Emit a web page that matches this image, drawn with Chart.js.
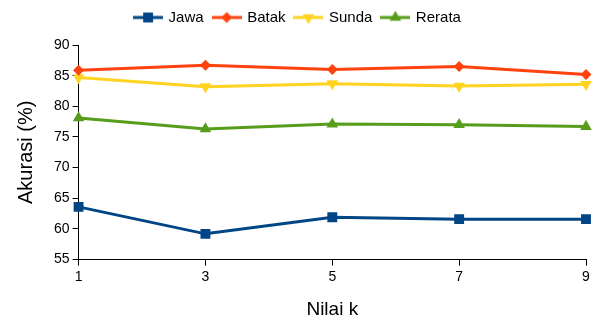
<!DOCTYPE html>
<html>
<head>
<meta charset="utf-8">
<script src="https://cdn.jsdelivr.net/npm/chart.js@4/dist/chart.umd.min.js"></script>
<style>
  html, body { margin: 0; padding: 0; background: #fff; }
  #wrap { width: 600px; height: 323px; position: relative; }
</style>
</head>
<body>
<div id="wrap"><canvas id="c"></canvas></div>
<script>
// Accuracy (%) for each k value of the k-NN classifier
const kValues = ['1', '3', '5', '7', '9'];
const jawa   = [63.6, 59.2, 61.9, 61.6, 61.6];
const batak  = [85.9, 86.7, 86.0, 86.5, 85.2];
const sunda  = [84.7, 83.2, 83.7, 83.3, 83.6];
const rerata = [78.1, 76.3, 77.1, 77.0, 76.7];
const yTicks = [55, 60, 65, 70, 75, 80, 85, 90];

const FONT = 'Liberation Sans, Arial, sans-serif';

const series = [
  { label: 'Jawa',   data: jawa,   color: '#004586', style: 'rect',     radius: 7,   rot: 0 },
  { label: 'Batak',  data: batak,  color: '#ff420e', style: 'rectRot',  radius: 5.5, rot: 0 },
  { label: 'Sunda',  data: sunda,  color: '#ffd320', style: 'triangle', radius: 6.7, rot: 180 },
  { label: 'Rerata', data: rerata, color: '#579d1c', style: 'triangle', radius: 6.7, rot: 0 }
];

// Legend swatch: a short line with the series marker in the middle
function legendSwatch(s) {
  const cv = document.createElement('canvas');
  cv.width = 30; cv.height = 16;
  const g = cv.getContext('2d');
  g.strokeStyle = s.color; g.lineWidth = 3;
  g.beginPath(); g.moveTo(0, 8); g.lineTo(30, 8); g.stroke();
  g.fillStyle = s.color;
  Chart.helpers.drawPoint(g, { pointStyle: s.style, rotation: s.rot, radius: s.radius, borderWidth: 0 }, 15, 8);
  return cv;
}

// Extra room between the legend and the plot
const legendGap = {
  id: 'legendGap',
  beforeInit(chart) {
    const fit = chart.legend.fit;
    chart.legend.fit = function () { fit.call(this); this.height += 10; };
  }
};

const ctx = document.getElementById('c');
new Chart(ctx, {
  type: 'line',
  plugins: [legendGap],
  data: {
    labels: kValues,
    datasets: series.map(s => ({
      label: s.label,
      data: s.data,
      borderColor: s.color,
      backgroundColor: s.color,
      borderWidth: 3,
      pointStyle: s.style,
      pointRotation: s.rot,
      pointRadius: s.radius,
      pointHoverRadius: s.radius,
      pointBorderWidth: 0,
      tension: 0,
      fill: false
    }))
  },
  options: {
    responsive: true,
    maintainAspectRatio: false,
    animation: false,
    layout: { padding: { left: 10, right: 14, top: 0, bottom: 0 } },
    plugins: {
      tooltip: { enabled: false },
      legend: {
        position: 'top',
        labels: {
          usePointStyle: true,
          pointStyleWidth: 26,
          font: { family: FONT, size: 15 },
          color: '#000',
          padding: 10,
          generateLabels: chart => series.map((s, i) => ({
            text: s.label,
            pointStyle: legendSwatch(s),
            fillStyle: s.color,
            strokeStyle: s.color,
            lineWidth: 0,
            hidden: false,
            datasetIndex: i,
            fontColor: '#000'
          }))
        }
      }
    },
    scales: {
      x: {
        type: 'category',
        offset: false,
        border: { color: '#000', width: 1 },
        grid: { display: true, drawOnChartArea: false, drawTicks: true, tickLength: 6, color: '#000' },
        ticks: { font: { family: FONT, size: 14 }, color: '#000', padding: 3, maxRotation: 0 },
        title: { display: true, text: 'Nilai k', font: { family: FONT, size: 19 }, color: '#000', padding: { top: 9.5, bottom: 2.3 } }
      },
      y: {
        min: 55,
        max: 90,
        afterBuildTicks: axis => { axis.ticks = yTicks.map(v => ({ value: v })); },
        border: { color: '#000', width: 1 },
        grid: { display: true, drawOnChartArea: false, drawTicks: true, tickLength: 6, color: '#000' },
        ticks: { font: { family: FONT, size: 14 }, color: '#000', padding: 3 },
        title: { display: true, text: 'Akurasi (%)', font: { family: FONT, size: 20 }, color: '#000', padding: { top: 4, bottom: 13 } }
      }
    }
  }
});
</script>
</body>
</html>
